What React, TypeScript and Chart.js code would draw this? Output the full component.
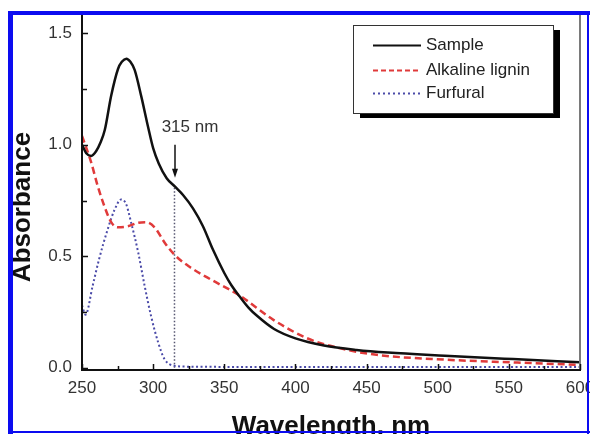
import { useEffect, useRef } from "react";
import { Chart, registerables } from "chart.js";

Chart.register(...registerables);

// ---- data ----
const sampleNm = [250, 253, 256.5, 260, 263, 266, 270.5, 275.3, 278, 281.2, 284, 287, 291.7, 296.4, 300, 304, 309.5, 315.4, 321, 328, 335, 342, 350, 355, 361, 367, 373, 385, 400, 420, 443, 465, 505, 553, 600];
const sampleAbs = [1.0, 0.962, 0.95, 0.972, 1.01, 1.066, 1.22, 1.34, 1.372, 1.386, 1.372, 1.336, 1.216, 1.081, 0.985, 0.915, 0.85, 0.812, 0.775, 0.715, 0.635, 0.53, 0.425, 0.37, 0.318, 0.27, 0.233, 0.174, 0.132, 0.1, 0.08, 0.068, 0.054, 0.039, 0.025];

const ligninNm = [250, 256.5, 261, 266, 270.5, 275, 282, 289, 295, 301, 308, 315, 325, 340, 361, 384.5, 408, 431, 457, 506, 553, 600];
const ligninAbs = [1.04, 0.92, 0.816, 0.72, 0.653, 0.63, 0.634, 0.65, 0.653, 0.63, 0.562, 0.507, 0.455, 0.398, 0.323, 0.215, 0.133, 0.088, 0.058, 0.036, 0.024, 0.013];

const furfuralNm = [250, 252.5, 257.5, 262, 268, 273, 277.5, 281, 284.5, 289.5, 294, 298.5, 303.5, 308, 315, 325, 350, 400, 500, 600];
const furfuralAbs = [0.28, 0.238, 0.368, 0.487, 0.62, 0.71, 0.755, 0.734, 0.652, 0.517, 0.368, 0.233, 0.114, 0.039, 0.009, 0.005, 0.004, 0.004, 0.004, 0.004];

const seriesLabels = ["Sample", "Alkaline lignin", "Furfural"];

const markerNm = 315;
const markerAbs = 0.81;
const markerLabel = "315 nm";

const xTicks = [250, 300, 350, 400, 450, 500, 550, 600];
const xMinorTicks = [275, 325, 375, 425, 475, 525, 575];
const yTicks = [0.0, 0.5, 1.0, 1.5];
const yMinorTicks = [0.25, 0.75, 1.25];

const xTitle = "Wavelength, nm";
const yTitle = "Absorbance";

const FONT = '"Liberation Sans", Arial, Helvetica, sans-serif';

const toPoints = (xs: number[], ys: number[]) => xs.map((v, i) => ({ x: v, y: ys[i] }));

const decor = {
  id: "decor",
  afterDraw(chart: any) {
    const { ctx, chartArea: a } = chart;
    const x = chart.scales.x;
    const y = chart.scales.y;
    ctx.save();

    // axis lines
    ctx.lineWidth = 2;
    ctx.strokeStyle = "#7a7a7a";
    ctx.beginPath();
    ctx.moveTo(a.right, a.top);
    ctx.lineTo(a.right, a.bottom);
    ctx.stroke();
    ctx.strokeStyle = "#111";
    ctx.beginPath();
    ctx.moveTo(a.left, a.top);
    ctx.lineTo(a.left, a.bottom);
    ctx.lineTo(a.right + 1, a.bottom);
    ctx.stroke();

    // inward ticks
    ctx.lineWidth = 1.5;
    ctx.strokeStyle = "#111";
    ctx.beginPath();
    yTicks.forEach((v) => {
      const py = Math.round(y.getPixelForValue(v)) + 0.5;
      ctx.moveTo(a.left, py);
      ctx.lineTo(a.left + 6, py);
    });
    yMinorTicks.forEach((v) => {
      const py = Math.round(y.getPixelForValue(v)) + 0.5;
      ctx.moveTo(a.left, py);
      ctx.lineTo(a.left + 5, py);
    });
    xTicks.forEach((v) => {
      const px = Math.round(x.getPixelForValue(v)) + 0.5;
      ctx.moveTo(px, a.bottom);
      ctx.lineTo(px, a.bottom - 6);
    });
    xMinorTicks.forEach((v) => {
      const px = Math.round(x.getPixelForValue(v)) + 0.5;
      ctx.moveTo(px, a.bottom);
      ctx.lineTo(px, a.bottom - 4);
    });
    ctx.stroke();

    // annotation arrow + label
    const ax = Math.round(x.getPixelForValue(markerNm)) + 1;
    const aTop = y.getPixelForValue(1.0);
    const aTip = y.getPixelForValue(0.852);
    ctx.strokeStyle = "#111";
    ctx.fillStyle = "#111";
    ctx.lineWidth = 1.5;
    ctx.beginPath();
    ctx.moveTo(ax, aTop);
    ctx.lineTo(ax, aTip - 5);
    ctx.stroke();
    ctx.beginPath();
    ctx.moveTo(ax - 3, aTip - 9);
    ctx.lineTo(ax + 3, aTip - 9);
    ctx.lineTo(ax, aTip);
    ctx.closePath();
    ctx.fill();
    ctx.font = `17px ${FONT}`;
    ctx.fillStyle = "#333";
    ctx.textAlign = "center";
    ctx.textBaseline = "middle";
    ctx.fillText(markerLabel, ax + 15, y.getPixelForValue(1.077));

    // legend
    const lx = 353, ly = 25, lw = 200, lh = 88;
    ctx.fillStyle = "#000";
    ctx.fillRect(lx + 7, ly + 5, lw, lh);
    ctx.fillStyle = "#fff";
    ctx.fillRect(lx, ly, lw, lh);
    ctx.strokeStyle = "#333";
    ctx.lineWidth = 1;
    ctx.strokeRect(lx + 0.5, ly + 0.5, lw, lh);
    const rows = [45, 70, 93];
    const legendDash = [[], [5, 3], [2, 3]];
    seriesLabels.forEach((label, i) => {
      const ds = chart.data.datasets[i];
      ctx.save();
      ctx.strokeStyle = ds.borderColor;
      ctx.lineWidth = 2;
      ctx.setLineDash(legendDash[i]);
      ctx.beginPath();
      ctx.moveTo(373, rows[i] + 0.5);
      ctx.lineTo(421, rows[i] + 0.5);
      ctx.stroke();
      ctx.restore();
      ctx.font = `17px ${FONT}`;
      ctx.fillStyle = "#222";
      ctx.textAlign = "left";
      ctx.textBaseline = "middle";
      ctx.fillText(label, 426, rows[i]);
    });

    // axis titles
    ctx.fillStyle = "#111";
    ctx.font = `bold 26px ${FONT}`;
    ctx.textAlign = "center";
    ctx.textBaseline = "middle";
    ctx.save();
    ctx.translate(23, 207);
    ctx.rotate(-Math.PI / 2);
    ctx.fillText(yTitle, 0, 0);
    ctx.restore();
    ctx.textBaseline = "alphabetic";
    ctx.fillText(xTitle, (a.left + a.right) / 2, 434);

    // blue frame
    ctx.fillStyle = "#0c0cf0";
    ctx.fillRect(8, 11, 582, 4);
    ctx.fillRect(8, 11, 5, 423);
    ctx.fillRect(587, 11, 2, 423);
    ctx.fillRect(8, 431, 582, 2);

    ctx.restore();
  },
};

const whiteBg = {
  id: "whiteBg",
  beforeDraw(chart: any) {
    const { ctx, width, height } = chart;
    ctx.save();
    ctx.fillStyle = "#fff";
    ctx.fillRect(0, 0, width, height);
    ctx.restore();
  },
};

export default function App() {
  const ref = useRef<HTMLCanvasElement | null>(null);

  useEffect(() => {
    document.body.style.margin = "0";
    const canvas = ref.current;
    if (!canvas) return;
    const chart = new Chart(canvas, {
      type: "line",
      data: {
        datasets: [
          {
            label: seriesLabels[0],
            data: toPoints(sampleNm, sampleAbs),
            borderColor: "#111111",
            borderWidth: 2.5,
            pointRadius: 0,
            cubicInterpolationMode: "monotone",
          },
          {
            label: seriesLabels[1],
            data: toPoints(ligninNm, ligninAbs),
            borderColor: "#e03a3a",
            borderWidth: 2.5,
            borderDash: [7, 4],
            pointRadius: 0,
            cubicInterpolationMode: "monotone",
          },
          {
            label: seriesLabels[2],
            data: toPoints(furfuralNm, furfuralAbs),
            borderColor: "#4a4aa8",
            borderWidth: 2,
            borderDash: [2, 2.5],
            pointRadius: 0,
            cubicInterpolationMode: "monotone",
          },
          {
            label: "marker",
            data: [
              { x: markerNm, y: 0 },
              { x: markerNm, y: markerAbs },
            ],
            borderColor: "#555570",
            borderWidth: 1.5,
            borderDash: [1.5, 2],
            pointRadius: 0,
          },
        ],
      },
      options: {
        responsive: false,
        animation: false,
        devicePixelRatio: 1,
        layout: { padding: { top: 11, right: 10, left: 0, bottom: 0 } },
        plugins: {
          legend: { display: false },
          tooltip: { enabled: false },
        },
        scales: {
          x: {
            type: "linear",
            min: 250,
            max: 600,
            grid: { display: false, drawTicks: false },
            border: { display: false },
            afterBuildTicks: (s: any) => {
              s.ticks = xTicks.map((v) => ({ value: v }));
            },
            afterFit: (s: any) => {
              s.height = 64;
              s.paddingLeft = 0;
              s.paddingRight = 0;
            },
            ticks: {
              padding: 8,
              color: "#333",
              font: { family: FONT, size: 17 },
              maxRotation: 0,
              autoSkip: false,
              callback: (v: any) => String(v),
            },
          },
          y: {
            type: "linear",
            min: -0.01,
            max: 1.6,
            grid: { display: false, drawTicks: false },
            border: { display: false },
            afterBuildTicks: (s: any) => {
              s.ticks = yTicks.map((v) => ({ value: v }));
            },
            afterFit: (s: any) => {
              s.width = 82;
              s.paddingTop = 0;
              s.paddingBottom = 0;
            },
            ticks: {
              padding: 10,
              color: "#333",
              font: { family: FONT, size: 17 },
              autoSkip: false,
              callback: (v: any) => Number(v).toFixed(1),
            },
          },
        },
      },
      plugins: [whiteBg, decor],
    } as any);
    return () => chart.destroy();
  }, []);

  return (
    <canvas
      ref={ref}
      width={590}
      height={434}
      style={{ display: "block", width: 590, height: 434 }}
    />
  );
}
